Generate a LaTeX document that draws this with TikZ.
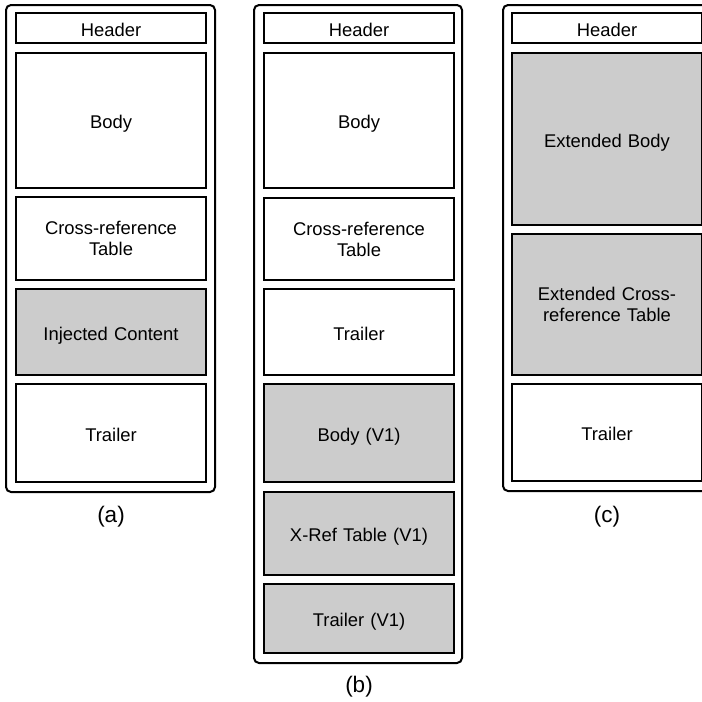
\documentclass[tikz,border=0pt]{standalone}
\usepackage{fontspec}
\setmainfont{Liberation Sans}
\definecolor{boxgray}{HTML}{CCCCCC}
\begin{document}
\begin{tikzpicture}[x=1pt,y=-1pt,
  every node/.style={font=\fontsize{18.4}{21}\selectfont, align=center, inner sep=0pt},
  blk/.style={draw=black, line width=2pt, fill=white, minimum width=190, text width=185},
  gblk/.style={blk, fill=boxgray},
  one/.style={text height=16pt, text depth=0pt},
  frame/.style={draw=black, line width=2pt, rounded corners=5pt},
  caption/.style={font=\fontsize{22.5}{26}\selectfont}]
\useasboundingbox (0,0) rectangle (702,702);
\clip (0,0) rectangle (702,702);
% (a)
\draw[frame] (6,5) rectangle (215,492);
\node[blk, one, minimum height=30] (aH) at (111,28) {Header};
\node[blk, one, minimum height=135] (aB) at (111,120.5) {Body};
\node[blk, minimum height=83] (aX) at (111,238.5) {Cross-reference\\Table};
\node[gblk, one, minimum height=86] (aI) at (111,332) {Injected Content};
\node[blk, one, minimum height=98] (aT) at (111,433) {Trailer};
\node[caption] (aL) at (111,517) {(a)};
% (b)
\draw[frame] (254,5) rectangle (462,663);
\node[blk, one, minimum height=30] (bH) at (359,28) {Header};
\node[blk, one, minimum height=135] (bB) at (359,120.5) {Body};
\node[blk, minimum height=82] (bX) at (359,239) {Cross-reference\\Table};
\node[blk, one, minimum height=86] (bT) at (359,332) {Trailer};
\node[gblk, one, minimum height=98] (bB1) at (359,433) {Body (V1)};
\node[gblk, one, minimum height=83] (bX1) at (359,533.5) {X-Ref Table (V1)};
\node[gblk, one, minimum height=69] (bT1) at (359,618.5) {Trailer (V1)};
\node[caption] (bL) at (359,687) {(b)};
% (c)
\draw[frame] (503,5) rectangle (712,491);
\node[blk, one, minimum height=30] (cH) at (607,28) {Header};
\node[gblk, one, minimum height=172] (cB) at (607,139) {Extended Body};
\node[gblk, minimum height=141] (cX) at (607,304.5) {Extended Cross-\\reference Table};
\node[blk, one, minimum height=97] (cT) at (607,432.5) {Trailer};
\node[caption] (cL) at (607,517) {(c)};
\end{tikzpicture}
\end{document}
